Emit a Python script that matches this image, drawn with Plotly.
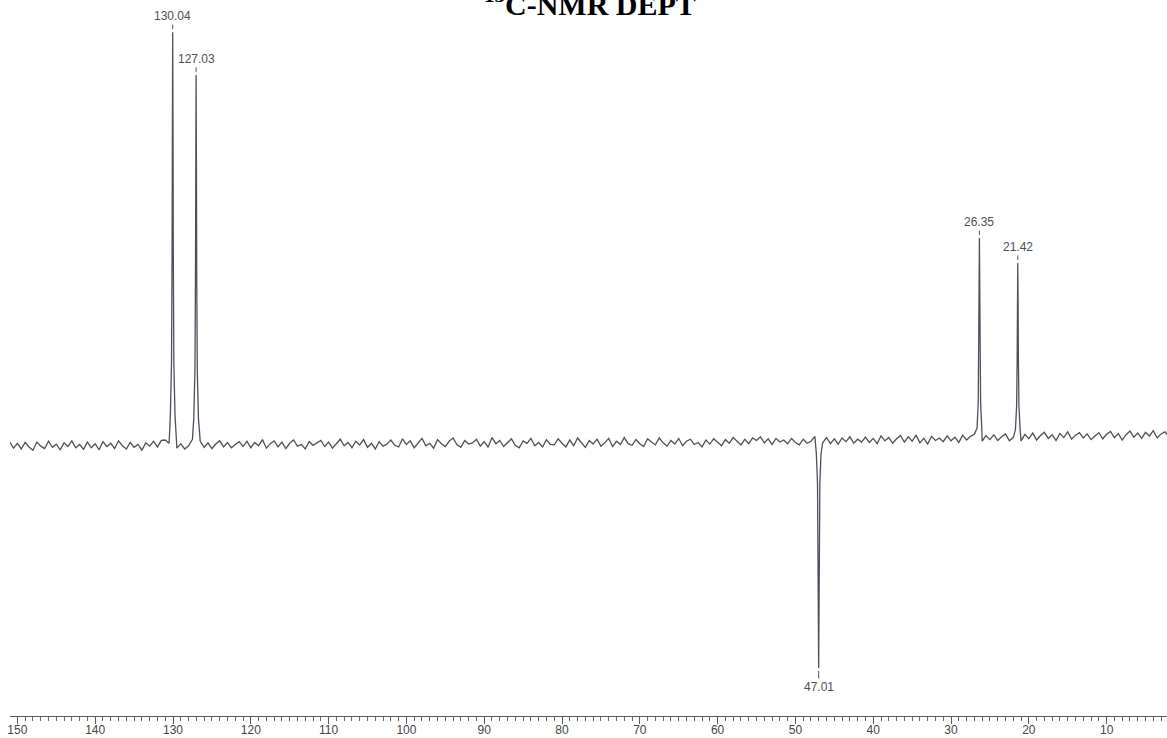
import plotly.graph_objects as go

# ---- data ----
title_text = "<b><sup>13</sup>C-NMR DEPT</b>"

peak_ppm = [130.04, 127.03, 47.01, 26.35, 21.42]
peak_height = [100.2, 89.7, -56.0, 49.6, 43.5]
peak_labels = ["130.04", "127.03", "47.01", "26.35", "21.42"]

# relative peak profile (offset in ppm, fraction of height)
profile_offset = [-0.30, -0.15, -0.08, -0.04, 0.0, 0.04, 0.08, 0.15, 0.30]
profile_frac = [0.06, 0.19, 0.45, 0.77, 1.0, 0.77, 0.45, 0.19, 0.06]

# baseline (noise) read every 0.5 ppm from 151.0 down to 2.0, in tenths of intensity units
baseline_tenths = [
    -4, -20, -8, -22, -6, -17, -25, -5, -15, -21, -3, -18, -10, -24, -7, -16, -2, -19, -11, -23,
    -5, -19, -9, -24, -4, -16, -8, -21, -2, -14, -22, -6, -18, -11, -25, -7, -15, -3, -17, -1,
    0, -8, -10, -20, -9, -22, -14, 2, -10, -3, -18, -7, -21, -10, -2, -17, -6, -19, -11, -4,
    -16, -3, -19, -6, -14, 1, -20, -9, -2, -17, -5, -21, -8, 0, -15, -11, -22, -4, -13, -7,
    -1, -16, -5, -20, -9, 2, -14, -6, -19, -3, -12, 1, -18, -8, -22, -4, -15, -10, 0, -13,
    -17, 3, -11, -2, -19, -6, 4, -14, -8, -20, 1, -9, -16, -3, 5, -12, -18, -1, -10, -7,
    2, -15, -4, -18, 6, -9, -1, -16, -7, 3, -13, -19, -2, -8, 4, -14, -6, -17, 1, -11,
    -12, 3, -8, -17, 0, -14, 5, -6, -18, -1, -10, 2, -15, -7, 4, -16, -3, -11, 6, -9,
    -13, 1, -9, -16, 3, -5, -12, 5, -7, -15, -1, -10, 4, -14, -3, 2, -11, -6, -17, 0,
    -10, 3, -6, -14, 1, -8, 6, -4, -12, 2, -9, 5, -1, 8, -7, 3, -11, 4, -5, 0,
    -9, 4, -6, -12, 2, -8, -3, 9, -2, -7, 6, -9, 3, -10, 5, -4, 8, -8, 2, -5,
    7, -6, 4, -9, 10, -2, 6, -8, 3, 11, -5, 8, -3, 12, -7, 4, -10, 9, -1, 5,
    -4, 10, -2, 7, -6, 12, 0, 9, 14, 5, -3, 11, 1, 13, -1, 8, 15, -2, 6, 5,
    -2, 14, 3, 17, 0, 11, 19, 4, 13, -1, 16, 6, 20, 2, 12, 18, 5, 15, 1, 10,
    18, 3, 14, 21, 6, 16, 0, 13, 22, 7, 17, 4, 19, 10, 23, 5, 15, 20, 8,
]
baseline_start_ppm = 151.0
baseline_step_ppm = 0.5

# ---- build the trace ----
base_x = [baseline_start_ppm - i * baseline_step_ppm for i in range(len(baseline_tenths))]
base_y = [v / 10.0 for v in baseline_tenths]

pts = []
for bx, by in zip(base_x, base_y):
    if all(abs(bx - p) > 0.3 for p in peak_ppm):
        pts.append((bx, by))
for p, h in zip(peak_ppm, peak_height):
    for off, fr in zip(profile_offset, profile_frac):
        pts.append((p + off, h * fr))
pts.sort(key=lambda t: -t[0])
xs = [t[0] for t in pts]
ys = [t[1] for t in pts]

fig = go.Figure()
fig.add_trace(go.Scatter(
    x=xs, y=ys, mode="lines",
    line=dict(color="#4f4f5c", width=1.3),
    hoverinfo="skip", showlegend=False,
))

ann = []
for p, h, lab in zip(peak_ppm, peak_height, peak_labels):
    ann.append(dict(
        x=p, y=h, xref="x", yref="y", text=lab,
        showarrow=True, arrowhead=0, arrowwidth=1, arrowcolor="#555",
        ax=0, ay=(-16 if h > 0 else 19), standoff=3,
        font=dict(family="Liberation Sans, Arial", size=12, color="#4d4d58"),
    ))
ann.append(dict(
    x=0.501, y=0.997, xref="paper", yref="paper", text=title_text,
    showarrow=False, xanchor="center", yanchor="middle",
    font=dict(family="Liberation Serif, Times New Roman", size=30, color="#000"),
))

fig.update_layout(
    width=1167, height=738,
    margin=dict(l=10, r=0, t=0, b=22),
    paper_bgcolor="white", plot_bgcolor="white",
    annotations=ann,
    showlegend=False,
    xaxis=dict(
        range=[150.95, 2.24],
        showgrid=False, zeroline=False,
        showline=True, linecolor="#5a5a5a", linewidth=1,
        ticks="outside", ticklen=7, tickcolor="#5a5a5a", tickwidth=1,
        dtick=10, tick0=0, ticklabelstandoff=-4,
        tickfont=dict(family="Liberation Sans, Arial", size=12, color="#444"),
        minor=dict(dtick=1, ticks="outside", ticklen=4, tickcolor="#6a6a6a", tickwidth=1),
    ),
    yaxis=dict(
        range=[-67.8, 108.1], visible=False, showgrid=False, zeroline=False,
    ),
)

fig.write_html(
    "out.html",
    config={"displayModeBar": False},
    post_script="document.body.style.margin='0';document.body.style.overflow='hidden';",
)
